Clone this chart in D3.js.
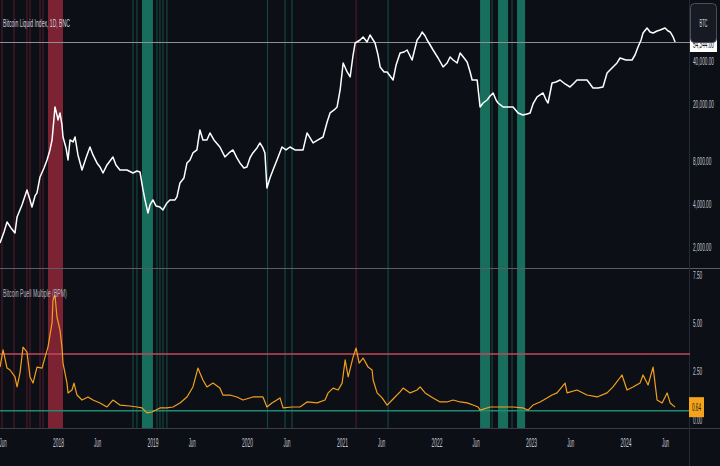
<!DOCTYPE html>
<html><head><meta charset="utf-8">
<script src="https://cdn.jsdelivr.net/npm/d3@7"></script>
<style>html,body{margin:0;padding:0;background:#0d0f16;}svg{display:block;}</style>
</head><body><svg id="c" width="720" height="466"></svg>
<script>
// ---- data (dates in decimal years) ----
const priceT=[2017.387,2017.429,2017.461,2017.503,2017.545,2017.567,2017.619,2017.672,2017.704,2017.725,
2017.757,2017.778,2017.810,2017.852,2017.884,2017.915,2017.937,2017.958,2017.968,2017.989,
2018.000,2018.021,2018.042,2018.053,2018.085,2018.106,2018.127,2018.159,2018.180,2018.211,
2018.254,2018.296,2018.338,2018.370,2018.412,2018.444,2018.476,2018.518,2018.581,2018.613,
2018.655,2018.687,2018.729,2018.793,2018.835,2018.867,2018.899,2018.920,2018.951,2018.973,
2019.004,2019.036,2019.078,2019.110,2019.152,2019.184,2019.237,2019.258,2019.290,2019.332,
2019.364,2019.396,2019.427,2019.469,2019.501,2019.533,2019.575,2019.607,2019.649,2019.712,
2019.765,2019.808,2019.850,2019.892,2019.924,2019.966,2019.998,2020.030,2020.061,2020.104,
2020.135,2020.167,2020.188,2020.209,2020.241,2020.273,2020.315,2020.368,2020.410,2020.452,
2020.505,2020.558,2020.590,2020.632,2020.664,2020.696,2020.748,2020.801,2020.844,2020.875,
2020.918,2020.949,2020.981,2021.013,2021.055,2021.087,2021.118,2021.140,2021.192,2021.224,
2021.266,2021.297,2021.350,2021.382,2021.404,2021.446,2021.478,2021.509,2021.541,2021.573,
2021.615,2021.658,2021.689,2021.742,2021.763,2021.795,2021.827,2021.848,2021.880,2021.901,
2021.933,2021.964,2022.017,2022.070,2022.112,2022.144,2022.176,2022.218,2022.250,2022.292,
2022.324,2022.356,2022.377,2022.430,2022.461,2022.493,2022.535,2022.567,2022.599,2022.630,
2022.651,2022.704,2022.757,2022.810,2022.863,2022.915,2022.958,2022.990,2023.021,2023.064,
2023.127,2023.159,2023.180,2023.222,2023.264,2023.307,2023.360,2023.412,2023.455,2023.486,
2023.539,2023.592,2023.624,2023.655,2023.708,2023.761,2023.804,2023.835,2023.867,2023.909,
2023.941,2024.004,2024.068,2024.099,2024.131,2024.163,2024.184,2024.226,2024.258,2024.290,
2024.332,2024.364,2024.416,2024.448,2024.470,2024.501,2024.522];
const priceV=[2130,2540,2985,2710,2500,3236,3927,5000,4257,3803,
4541,4767,6166,7130,8112,9533,11195,15965,19066,16757,
15458,17306,14260,11749,9846,8112,11195,10839,11749,8794,
6904,8379,10000,8794,7729,7246,6577,7484,8515,7484,
6904,6904,6904,6577,6793,6684,5000,4257,3452,3927,
4257,3865,3803,3623,4056,4257,4257,4469,5598,6068,
7729,8112,9083,9533,13154,11195,11195,12533,11195,10000,
8515,9083,9533,8379,7729,7130,7246,8379,9083,9846,
10666,9846,9083,5164,6068,6904,8112,10000,9533,10000,
9533,9533,9533,12533,11561,10666,11195,11749,14967,17306,
18165,19066,25066,38752,33514,30916,44060,53472,56124,58908,
54344,60840,53472,44060,36330,33514,33514,31418,29454,37520,
45508,46244,47764,40652,46244,56124,59868,63860,59868,56124,
51776,47764,41984,36330,38752,42664,40652,38752,45508,41984,
39382,33514,29454,29454,19066,20326,21332,22754,23882,21332,
20326,19066,19066,19066,17306,16757,17029,17306,20000,22390,
23882,21332,20326,28062,28520,29454,27614,26308,28062,29454,
29454,29454,27614,25888,25888,26308,32976,34612,36330,38752,
41984,40652,40652,44060,50132,56124,62836,68116,63860,62836,
64896,65952,68116,64896,63860,58908,54344];

const puellT=[2017.387,2017.419,2017.461,2017.493,2017.545,2017.567,2017.598,2017.630,2017.672,2017.704,
2017.736,2017.778,2017.831,2017.863,2017.894,2017.937,2017.947,2017.968,2017.989,2018.021,
2018.042,2018.053,2018.095,2018.106,2018.148,2018.169,2018.201,2018.254,2018.317,2018.370,
2018.444,2018.518,2018.581,2018.655,2018.761,2018.835,2018.888,2018.941,2018.994,2019.078,
2019.152,2019.216,2019.290,2019.364,2019.427,2019.480,2019.501,2019.533,2019.575,2019.639,
2019.712,2019.744,2019.818,2019.892,2019.956,2020.061,2020.167,2020.209,2020.262,2020.347,
2020.379,2020.474,2020.558,2020.632,2020.738,2020.822,2020.854,2020.907,2020.960,2021.002,
2021.034,2021.066,2021.118,2021.150,2021.182,2021.224,2021.277,2021.319,2021.330,2021.372,
2021.425,2021.478,2021.531,2021.615,2021.647,2021.721,2021.795,2021.827,2021.880,2021.964,
2022.038,2022.112,2022.176,2022.250,2022.324,2022.387,2022.440,2022.461,2022.567,2022.672,
2022.810,2022.915,2022.968,2023.021,2023.095,2023.169,2023.222,2023.275,2023.360,2023.381,
2023.486,2023.592,2023.698,2023.804,2023.867,2023.962,2024.015,2024.078,2024.152,2024.184,
2024.237,2024.290,2024.332,2024.385,2024.438,2024.470,2024.522];
const puellV=[2.72,3.61,2.67,2.57,2.21,1.69,2.41,3.76,3.50,2.21,
1.89,2.72,2.67,3.24,3.76,5.01,6.20,6.46,5.32,4.64,
3.76,2.93,1.89,1.38,1.53,1.89,1.27,1.01,1.17,1.01,
0.86,0.65,1.01,0.75,0.70,0.65,0.60,0.34,0.39,0.60,
0.60,0.65,0.86,1.17,1.69,2.67,2.41,2.05,1.69,1.89,
1.63,1.27,1.27,1.17,1.01,1.17,1.17,0.65,0.86,1.12,
0.60,0.65,0.65,0.91,0.86,1.01,1.38,1.63,1.53,1.89,
3.09,2.21,3.24,3.71,2.93,3.19,2.72,2.57,2.05,1.38,
1.12,0.75,1.01,1.43,1.63,1.38,1.53,1.69,1.38,1.12,
0.91,0.91,1.01,0.91,0.86,0.75,0.65,0.49,0.65,0.65,
0.65,0.60,0.49,0.75,0.91,1.12,1.27,1.38,1.89,1.38,
1.53,1.27,1.17,1.38,1.69,2.31,1.53,1.69,1.89,2.31,
1.79,2.72,1.01,0.86,1.38,0.86,0.64];

const redZones=[[2017.402,2017.414],[2017.529,2017.541],[2017.666,2017.678],[2017.698,2017.710],
[2017.804,2017.816],[2017.835,2017.847],[2017.894,2018.053],[2021.144,2021.156]];
const greenZones=[[2018.787,2018.799],[2018.829,2018.841],[2018.888,2019.004],[2019.041,2019.053],
[2019.072,2019.084],[2019.104,2019.116],[2019.146,2019.158],[2020.209,2020.221],[2020.394,2020.406],
[2020.468,2020.480],[2021.482,2021.494],[2022.461,2022.567],[2022.582,2022.594],[2022.651,2022.757],
[2022.793,2022.805],[2022.852,2022.937]];

const priceTicks=[2000,4000,8000,20000,40000];
const puellTicks=[0,2.5,5,7.5];
const redLevel=3.4, greenLevel=0.45;
const yearLabels=[2018,2019,2020,2021,2022,2023,2024];
const junYears=[2017,2018,2019,2020,2021,2022,2023,2024];
const title="Bitcoin Liquid Index, 1D, BNC";
const subTitle="Bitcoin Puell Multiple (BPM)";
const symbol="BTC";

// ---- helpers ----
function dy(t){const y=Math.floor(t);const a=Date.UTC(y,0,1),b=Date.UTC(y+1,0,1);return new Date(a+(t-y)*(b-a));}
const FONT="'Liberation Sans', Arial, sans-serif";
const svg=d3.select("#c");
const R=690, topB=268, botT=269, botB=428;

const x=d3.scaleUtc().domain([new Date(Date.UTC(2018,0,1)),new Date(Date.UTC(2024,0,1))]).range([58,625.6]);
const yTop=d3.scaleLog().domain([2000,40000]).range([246.8,61]);
const yBot=d3.scaleLinear().domain([0,7.5]).range([419.5,275]);

// squeeze a text horizontally to a target width (anchor-aware)
function squeeze(sel,target){
  sel.each(function(){
    const el=d3.select(this);
    const w=this.getComputedTextLength();
    const tw=typeof target==="function"?target(this.textContent):target;
    const k=Math.min(1,tw/w);
    const xx=+(el.attr("x")||0);
    el.attr("x",0).attr("transform",`translate(${xx},0) scale(${k},1)`);
  });
}

svg.append("rect").attr("width",720).attr("height",466).attr("fill","#0d0f16");

const defs=svg.append("defs");
defs.append("clipPath").attr("id","ct").append("rect").attr("x",0).attr("y",0).attr("width",R).attr("height",topB);
defs.append("clipPath").attr("id","cb").append("rect").attr("x",0).attr("y",botT).attr("width",R).attr("height",botB-botT);
defs.append("clipPath").attr("id","cp").append("rect").attr("x",0).attr("y",0).attr("width",R).attr("height",botB);

// zones
const zg=svg.append("g").attr("clip-path","url(#cp)");
function zones(arr,col){
  zg.selectAll(null).data(arr).enter().append("rect")
    .attr("x",d=>x(dy(d[0]))).attr("y",0)
    .attr("width",d=>Math.max(1,x(dy(d[1]))-x(dy(d[0]))))
    .attr("height",botB)
    .attr("fill",col)
    .attr("opacity",d=>(x(dy(d[1]))-x(dy(d[0])))<3?0.6:1);
}
zones(redZones,"#7c2333");
zones(greenZones,"#186e5d");

// separators
svg.append("line").attr("x1",0).attr("x2",720).attr("y1",topB+0.5).attr("y2",topB+0.5).attr("stroke","#5a5d68").attr("stroke-width",1);
svg.append("line").attr("x1",0).attr("x2",720).attr("y1",botB+0.5).attr("y2",botB+0.5).attr("stroke","#3a3d48").attr("stroke-width",1);
svg.append("line").attr("x1",R-0.5).attr("x2",R-0.5).attr("y1",0).attr("y2",466).attr("stroke","#262a35").attr("stroke-width",1);

// last price line
const lastPrice=priceV[priceV.length-1], lastPuell=puellV[puellV.length-1];
svg.append("line").attr("x1",0).attr("x2",R).attr("y1",Math.round(yTop(lastPrice))+0.5).attr("y2",Math.round(yTop(lastPrice))+0.5)
  .attr("stroke","#8d8f96").attr("stroke-width",1);

// thresholds
svg.append("line").attr("x1",0).attr("x2",R).attr("y1",yBot(redLevel)).attr("y2",yBot(redLevel)).attr("stroke","#c2495a").attr("stroke-width",1.5);
svg.append("line").attr("x1",0).attr("x2",R).attr("y1",yBot(greenLevel)).attr("y2",yBot(greenLevel)).attr("stroke","#1f8a70").attr("stroke-width",1.5);

// price line
const pData=priceT.map((t,i)=>({d:dy(t),v:priceV[i]}));
svg.append("path").datum(pData).attr("clip-path","url(#ct)")
  .attr("d",d3.line().x(d=>x(d.d)).y(d=>yTop(d.v)))
  .attr("fill","none").attr("stroke","#ffffff").attr("stroke-width",1.5).attr("stroke-linejoin","round");

// puell line
const qData=puellT.map((t,i)=>({d:dy(t),v:puellV[i]}));
svg.append("path").datum(qData).attr("clip-path","url(#cb)")
  .attr("d",d3.line().x(d=>x(d.d)).y(d=>yBot(d.v)))
  .attr("fill","none").attr("stroke","#f2a01e").attr("stroke-width",1.2).attr("stroke-linejoin","round");

// axes
function lenOf(s){let w=0;for(const c of s){w+= (c===','||c==='.')?1.4:2.6;}return w;}
const ga=svg.append("g").attr("transform",`translate(${R},0)`)
  .call(d3.axisRight(yTop).tickValues(priceTicks).tickFormat(d3.format(",.2f")).tickSize(0).tickPadding(3));
const gb=svg.append("g").attr("transform",`translate(${R},0)`)
  .call(d3.axisRight(yBot).tickValues(puellTicks).tickFormat(d3.format(".2f")).tickSize(0).tickPadding(3));
[ga,gb].forEach(g=>{
  g.select(".domain").remove();
  g.selectAll("text").attr("fill","#c5c8d0").attr("font-family",FONT).attr("font-size",11).call(squeeze,lenOf);
});

const xt=[];
yearLabels.forEach(y=>xt.push(new Date(Date.UTC(y,0,1))));
junYears.forEach(y=>xt.push(new Date(Date.UTC(y,5,1))));
const gx=svg.append("g").attr("transform",`translate(0,${botB})`)
  .call(d3.axisBottom(x).tickValues(xt.filter(d=>x(d)>=0&&x(d)<=R)).tickFormat(d=>d.getUTCMonth()===0?d3.utcFormat("%Y")(d):"Jun").tickSize(0).tickPadding(10));
gx.select(".domain").remove();
gx.selectAll("text").attr("fill","#c5c8d0").attr("font-family",FONT).attr("font-size",13)
  .call(squeeze,s=>s==="Jun"?7:11);

// titles
svg.append("text").attr("x",3).attr("y",27).text(title).attr("fill","#d1d4dc").attr("font-family",FONT).attr("font-size",11).call(squeeze,67);
svg.append("text").attr("x",3).attr("y",297).text(subTitle).attr("fill","#b2b5be").attr("font-family",FONT).attr("font-size",11).call(squeeze,64);

// last price label (white)
const ly=yTop(lastPrice);
svg.append("rect").attr("x",R).attr("y",ly-6).attr("width",27).attr("height",16).attr("fill","#ffffff");
svg.append("text").attr("x",R+3).attr("y",ly+2).attr("dy","0.35em").text(d3.format(",.2f")(lastPrice))
  .attr("fill","#131722").attr("font-family",FONT).attr("font-size",11).call(squeeze,21);

// symbol button
svg.append("rect").attr("x",R+0.5).attr("y",3.5).attr("width",26).attr("height",39).attr("rx",4)
  .attr("fill","#171a23").attr("stroke","#4a4e5a");
svg.append("text").attr("x",R+9.5).attr("y",23).attr("dy","0.35em").text(symbol)
  .attr("fill","#d1d4dc").attr("font-family",FONT).attr("font-size",11).call(squeeze,8);

// last puell label
const qy=yBot(lastPuell);
svg.append("rect").attr("x",R-1).attr("y",qy-10).attr("width",15).attr("height",20).attr("fill","#f5a31a");
svg.append("text").attr("x",R+2).attr("y",qy).attr("dy","0.35em").text(d3.format(".2f")(lastPuell))
  .attr("fill","#1a1a1a").attr("font-family",FONT).attr("font-size",11).call(squeeze,9);
</script></body></html>
